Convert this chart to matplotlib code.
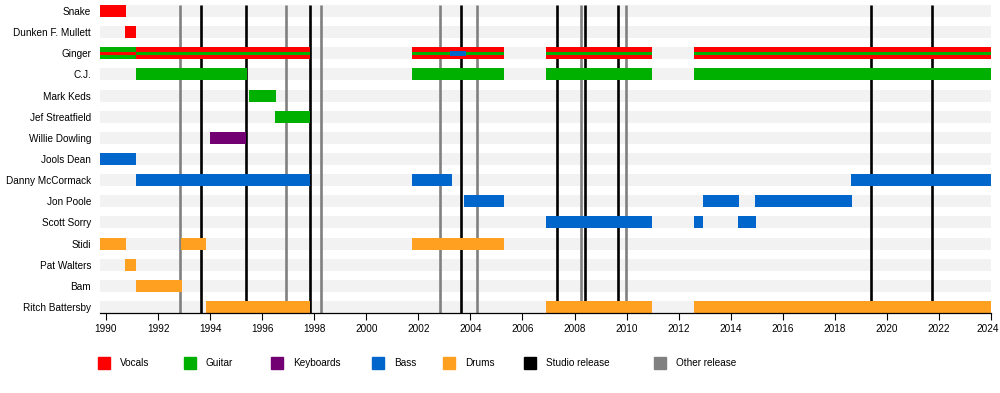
import matplotlib
matplotlib.use("Agg")
import matplotlib.pyplot as plt
from matplotlib.patches import Rectangle
from matplotlib.transforms import ScaledTranslation

plt.rcParams['font.family'] = ['Liberation Sans', 'DejaVu Sans']

members = ["Snake", "Dunken F. Mullett", "Ginger", "C.J.", "Mark Keds",
           "Jef Streatfield", "Willie Dowling", "Jools Dean", "Danny McCormack",
           "Jon Poole", "Scott Sorry", "Stidi", "Pat Walters", "Bam",
           "Ritch Battersby"]

start_year = 1989.77
end_year = 2024.0

# (member, start, end)
vocals = [("Snake", start_year, 1990.75), ("Dunken F. Mullett", 1990.72, 1991.17),
          ("Ginger", 1991.17, 1997.85), ("Ginger", 2001.75, 2005.29),
          ("Ginger", 2006.9, 2010.98), ("Ginger", 2012.6, end_year)]
guitar = [("Ginger", start_year, 1991.17),
          ("C.J.", 1991.17, 1995.4), ("C.J.", 2001.75, 2005.29),
          ("C.J.", 2006.9, 2010.98), ("C.J.", 2012.6, end_year),
          ("Mark Keds", 1995.48, 1996.52), ("Jef Streatfield", 1996.48, 1997.85)]
keyboards = [("Willie Dowling", 1993.98, 1995.39)]
bass = [("Jools Dean", start_year, 1991.17),
        ("Danny McCormack", 1991.17, 1997.85), ("Danny McCormack", 2001.75, 2003.29),
        ("Danny McCormack", 2018.63, end_year),
        ("Jon Poole", 2003.74, 2005.29), ("Jon Poole", 2012.94, 2014.33),
        ("Jon Poole", 2014.93, 2018.67),
        ("Scott Sorry", 2006.9, 2010.98), ("Scott Sorry", 2012.59, 2012.95),
        ("Scott Sorry", 2014.28, 2014.98)]
drums = [("Stidi", start_year, 1990.75), ("Stidi", 1992.89, 1993.85),
         ("Stidi", 2001.75, 2005.29),
         ("Pat Walters", 1990.72, 1991.17), ("Bam", 1991.17, 1992.93),
         ("Ritch Battersby", 1993.83, 1997.85), ("Ritch Battersby", 2006.9, 2010.98),
         ("Ritch Battersby", 2012.6, end_year)]

# Ginger's second roles drawn as a thin stripe inside the main bar
ginger_secondary = [("vocals", start_year, 1991.17), ("guitar", 1991.17, 1997.85),
                    ("guitar", 2001.75, 2005.29), ("bass", 2003.2, 2003.83),
                    ("guitar", 2006.9, 2010.98), ("guitar", 2012.6, end_year)]

studio_releases = [1993.65, 1995.39, 1997.83, 2003.65, 2007.34, 2008.41,
                   2009.68, 2019.38, 2021.74]
other_releases = [1992.83, 1996.9, 1998.26, 2002.84, 2004.26, 2008.26, 2009.97]

colors = {"vocals": "#ff0000", "guitar": "#00b000", "keyboards": "#730073",
          "bass": "#0066cc", "drums": "#ffa020", "studio": "#000000",
          "other": "#808080"}
legend_labels = ["Vocals", "Guitar", "Keyboards", "Bass", "Drums",
                 "Studio release", "Other release"]
legend_keys = ["vocals", "guitar", "keyboards", "bass", "drums", "studio", "other"]
legend_x = [104, 190, 277, 378, 449, 530, 660]

fig = plt.figure(figsize=(10, 3.93), dpi=100)
ax = fig.add_axes([0.100, 0.2028, 0.891, 0.796])

row = {m: i for i, m in enumerate(members)}
h = 0.57

# background stripes
ax.barh(range(len(members)), end_year - start_year, left=start_year, height=h,
        color="#f2f2f2", zorder=0)

ax.vlines(other_releases, -h / 2, 14.4, color=colors["other"], lw=1.9, zorder=1)
ax.vlines(studio_releases, -h / 2, 14.4, color=colors["studio"], lw=1.9, zorder=1)

for key, data in [("vocals", vocals), ("guitar", guitar), ("keyboards", keyboards),
                  ("bass", bass), ("drums", drums)]:
    for m, s, e in data:
        ax.barh(row[m], e - s, left=s, height=h, color=colors[key], zorder=2)

for key, s, e in ginger_secondary:
    hh = h * 0.3 if key != "bass" else h * 0.42
    ax.barh(row["Ginger"], e - s, left=s, height=hh, color=colors[key], zorder=3)

ax.set_xlim(start_year, end_year)
ax.set_ylim(14.3, -0.5)
ax.set_yticks(range(len(members)))
ax.set_yticklabels(members, fontsize=7.2)
ax.tick_params(axis="y", length=0, pad=6.5)
ax.set_xticks(range(1990, 2025, 2))
ax.tick_params(axis="x", length=5, width=0.8, pad=3, labelsize=7.2)
# nudge last year label so it stays inside the picture
last = ax.get_xticklabels()[-1]
last.set_transform(last.get_transform() + ScaledTranslation(-2.5 / 72, 0, fig.dpi_scale_trans))
for sp in ["left", "right", "top"]:
    ax.spines[sp].set_visible(False)
ax.spines["bottom"].set_linewidth(0.9)

for lx, key, lab in zip(legend_x, legend_keys, legend_labels):
    fig.add_artist(Rectangle(((lx - 6) / 1000, 1 - 368.5 / 393), 12 / 1000, 12 / 393,
                             color=colors[key], transform=fig.transFigure))
    fig.text((lx + 16) / 1000, 1 - 362.5 / 393, lab, fontsize=7.2, va="center")

fig.savefig("out.png", dpi=100)
